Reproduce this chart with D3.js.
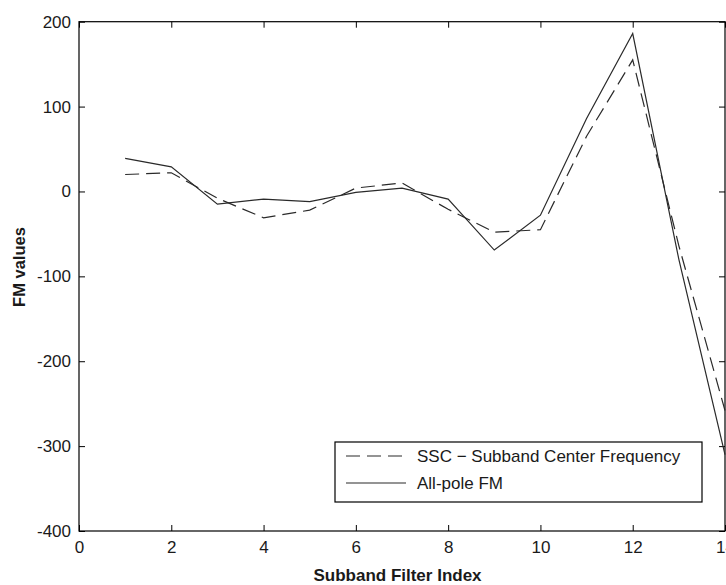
<!DOCTYPE html>
<html>
<head>
<meta charset="utf-8">
<script src="https://cdn.jsdelivr.net/npm/d3@7"></script>
<style>
  html, body { margin: 0; padding: 0; background: #fff; }
  svg { display: block; }
  text { font-family: "Liberation Sans", Arial, Helvetica, sans-serif; fill: #1a1a1a; }
</style>
</head>
<body>
<svg id="chart" width="726" height="585"></svg>
<script>
// Subband filter indices and the two FM estimates per subband
const subbands = [1, 2, 3, 4, 5, 6, 7, 8, 9, 10, 11, 12, 13, 14];
const sscValues = [20, 22, -8, -31, -22, 4, 10, -21, -48, -45, 65, 155, -64, -258];
const allPoleValues = [39, 29, -15, -9, -12, -1, 4, -9, -69, -28, 86, 186, -80, -310];

const xTicks = [0, 2, 4, 6, 8, 10, 12, 14];
const yTicks = [-400, -300, -200, -100, 0, 100, 200];

const seriesNames = ["SSC \u2212 Subband Center Frequency", "All-pole FM"];

const svg = d3.select("#chart");
const plot = { left: 79, right: 725, top: 21.7, bottom: 531 };

const x = d3.scaleLinear().domain([0, 14]).range([plot.left, plot.right]);
const y = d3.scaleLinear().domain([-400, 200]).range([plot.bottom, plot.top]);

// Plain hyphen-minus tick labels
const plainFormat = d => String(d);
const tickFont = "17px";

// Axes with inward ticks on all four sides
const gLeft = svg.append("g").attr("transform", `translate(${plot.left},0)`)
  .call(d3.axisLeft(y).tickValues(yTicks).tickSize(-6).tickPadding(8).tickFormat(plainFormat));
const gBottom = svg.append("g").attr("transform", `translate(0,${plot.bottom})`)
  .call(d3.axisBottom(x).tickValues(xTicks).tickSize(-6).tickPadding(10).tickFormat(plainFormat));
const gRight = svg.append("g").attr("transform", `translate(${plot.right},0)`)
  .call(d3.axisRight(y).tickValues(yTicks).tickSize(-6).tickFormat(""));
const gTop = svg.append("g").attr("transform", `translate(0,${plot.top})`)
  .call(d3.axisTop(x).tickValues(xTicks).tickSize(-6).tickFormat(""));

[gLeft, gBottom, gRight, gTop].forEach(g => {
  g.select(".domain").remove();
  g.selectAll(".tick line").attr("stroke", "#000").attr("stroke-width", 1);
  g.selectAll(".tick text")
    .attr("font-size", tickFont)
    .attr("font-family", "Liberation Sans, Arial, sans-serif")
    .attr("fill", "#1a1a1a");
});

// Plot box
svg.append("rect")
  .attr("x", plot.left).attr("y", plot.top)
  .attr("width", plot.right - plot.left).attr("height", plot.bottom - plot.top)
  .attr("fill", "none").attr("stroke", "#000").attr("stroke-width", 1.2);

// Series lines
const line = d3.line().x(d => x(d[0])).y(d => y(d[1]));
const sscPts = subbands.map((s, i) => [s, sscValues[i]]);
const polePts = subbands.map((s, i) => [s, allPoleValues[i]]);

svg.append("path").datum(polePts)
  .attr("d", line).attr("fill", "none")
  .attr("stroke", "#2a2a2a").attr("stroke-width", 1.2);

svg.append("path").datum(sscPts)
  .attr("d", line).attr("fill", "none")
  .attr("stroke", "#2a2a2a").attr("stroke-width", 1.2)
  .attr("stroke-dasharray", "14,7");

// Legend
const legend = svg.append("g");
legend.append("rect")
  .attr("x", 335).attr("y", 442).attr("width", 367).attr("height", 60)
  .attr("fill", "#fff").attr("stroke", "#000").attr("stroke-width", 1.2);

const rows = [
  { name: seriesNames[0], y: 456, dash: "14,7" },
  { name: seriesNames[1], y: 483, dash: null }
];
rows.forEach(r => {
  legend.append("line")
    .attr("x1", 346).attr("x2", 406).attr("y1", r.y).attr("y2", r.y)
    .attr("stroke", "#2a2a2a").attr("stroke-width", 1.2)
    .attr("stroke-dasharray", r.dash);
  legend.append("text")
    .attr("x", 417).attr("y", r.y).attr("dy", "0.35em")
    .attr("font-size", "17px").text(r.name);
});

// Axis titles
svg.append("text")
  .attr("x", 397.5).attr("y", 581)
  .attr("text-anchor", "middle")
  .attr("font-size", "17px").attr("font-weight", "bold")
  .text("Subband Filter Index");

svg.append("text")
  .attr("transform", "translate(25,267) rotate(-90)")
  .attr("text-anchor", "middle")
  .attr("font-size", "16.5px").attr("font-weight", "bold")
  .text("FM values");
</script>
</body>
</html>
